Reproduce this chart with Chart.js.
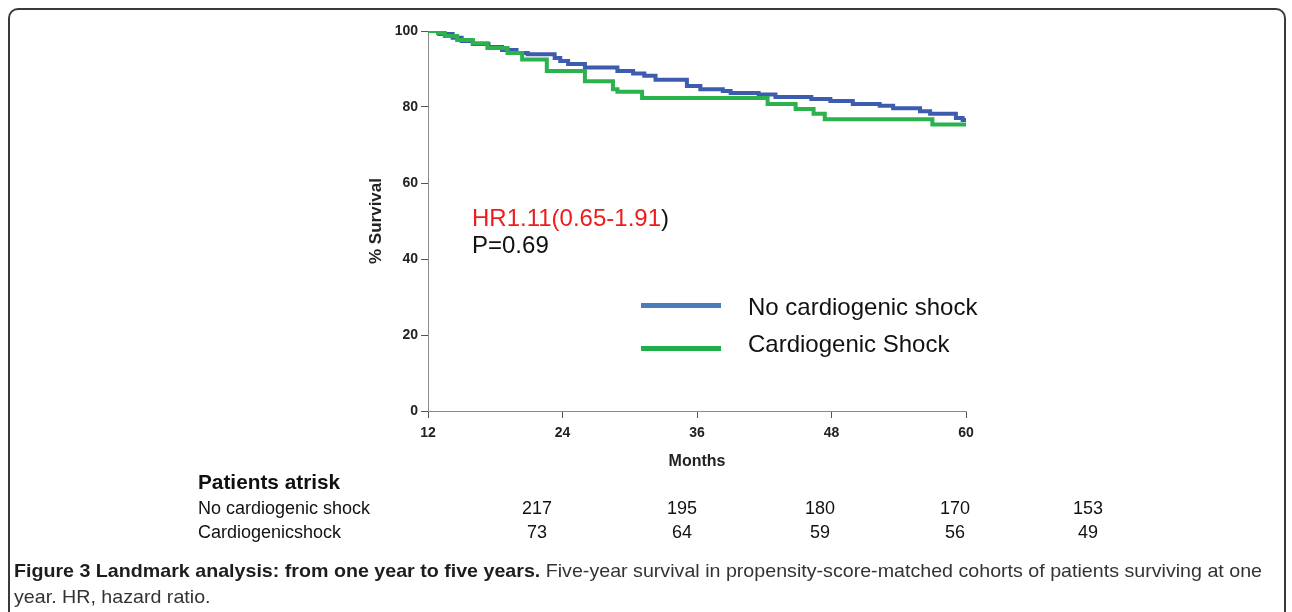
<!DOCTYPE html>
<html><head><meta charset="utf-8">
<script src="https://cdn.jsdelivr.net/npm/chart.js@4.4.1/dist/chart.umd.min.js"></script>
<style>
html,body{margin:0;padding:0;background:#fff;width:1292px;height:612px;overflow:hidden;font-family:"Liberation Sans",Arial,sans-serif;color:#111;}
#frame{position:absolute;left:8px;top:8px;width:1274px;height:640px;border:2px solid #3a3a3a;border-radius:10px;}
#c{position:absolute;left:0;top:0;}
.t{position:absolute;white-space:nowrap;line-height:1;}
.ann{font-size:24px;}
.leg{position:absolute;left:641px;width:80px;height:5px;}
.rk{font-size:18px;color:#111;}
.num{width:80px;text-align:center;}
.cap{font-size:19px;color:#333;transform-origin:0 0;transform:scaleX(1.034);}
.cap b{color:#1d1d1d;}
</style></head>
<body>
<div id="frame"></div>
<canvas id="c" width="1292" height="612"></canvas>
<div id="overlay"></div>
<script>
// ---- data ----
const xTicks = [12, 24, 36, 48, 60];
const yTicks = [0, 20, 40, 60, 80, 100];
const seriesNames = ['No cardiogenic shock', 'Cardiogenic Shock'];

const noShockMonths = [12, 13.0, 14.2, 15.0, 16.0, 17.4, 18.6, 19.9, 20.9, 23.3, 23.8, 24.5, 26.0, 28.9, 30.3, 31.3, 32.3, 35.1, 36.3, 38.3, 39.0, 41.5, 43.0, 46.2, 47.9, 49.9, 52.3, 53.5, 55.9, 56.8, 59.1, 59.7, 60];
const noShockSurv   = [100, 99.2, 98.2, 97.4, 96.6, 95.8, 95.0, 94.2, 93.9, 92.9, 92.1, 91.3, 90.4, 89.5, 88.8, 88.2, 87.2, 85.5, 84.7, 84.2, 83.7, 83.3, 82.6, 82.1, 81.6, 80.8, 80.3, 79.7, 78.9, 78.2, 77.1, 76.6, 76.6];

const shockMonths = [12, 12.9, 13.5, 14.6, 16.0, 17.3, 19.1, 20.4, 22.6, 26.0, 28.5, 28.9, 31.1, 42.3, 44.8, 46.4, 47.4, 57.0, 60];
const shockSurv   = [100, 99.5, 98.7, 97.6, 96.8, 95.5, 94.2, 92.5, 89.5, 86.8, 84.7, 84.0, 82.4, 80.8, 79.5, 78.2, 76.8, 75.4, 75.4];

const riskTitle = 'Patients atrisk';
const riskRowLabels = ['No cardiogenic shock', 'Cardiogenicshock'];
const riskNoShock = [217, 195, 180, 170, 153];
const riskShock = [73, 64, 59, 56, 49];

const hrText = 'HR1.11(0.65-1.91';
const pText = 'P=0.69';
</script>
<script>
function pts(xs, ys){ return xs.map((x,i)=>({x:x, y:ys[i]})); }
Chart.defaults.font.family = '"Liberation Sans", Arial, sans-serif';
const colBlue = '#3d5cb0', colGreen = '#2bb24c';
const chart = new Chart(document.getElementById('c'), {
  type: 'line',
  data: {
    datasets: [
      {label: seriesNames[0], data: pts(noShockMonths, noShockSurv), borderColor: colBlue, borderWidth: 4, stepped: true, pointRadius: 0, fill: false, order: 2},
      {label: seriesNames[1], data: pts(shockMonths, shockSurv), borderColor: colGreen, borderWidth: 4, stepped: true, pointRadius: 0, fill: false, order: 1}
    ]
  },
  options: {
    responsive: false, animation: false, devicePixelRatio: 1,
    layout: {padding: {left: 362, right: 326, top: 31, bottom: 136.4}},
    plugins: {legend: {display: false}, tooltip: {enabled: false}},
    scales: {
      x: {
        type: 'linear', min: 12, max: 60,
        afterBuildTicks: s => { s.ticks = xTicks.map(v => ({value: v})); },
        ticks: {font: {size: 14, weight: 'bold'}, color: '#222', padding: 7, maxRotation: 0, autoSkip: false},
        grid: {drawOnChartArea: false, drawTicks: true, tickLength: 7, color: '#555'},
        border: {display: true, color: '#8a8a8a', width: 1},
        title: {display: true, text: 'Months', font: {size: 16, weight: 'bold'}, color: '#222', padding: {top: 4, bottom: 4}},
        afterFit: s => { s.height = 64.6; }
      },
      y: {
        type: 'linear', min: 0, max: 100,
        afterBuildTicks: s => { s.ticks = yTicks.map(v => ({value: v})); },
        ticks: {font: {size: 14, weight: 'bold'}, color: '#222', padding: 3},
        grid: {drawOnChartArea: false, drawTicks: true, tickLength: 7, color: '#555'},
        border: {display: true, color: '#8a8a8a', width: 1},
        title: {display: true, text: '% Survival', font: {size: 17, weight: 'bold'}, color: '#222', padding: {top: 4, bottom: 4}},
        afterFit: s => { s.width = 66; }
      }
    }
  }
});

// overlays (text)
const ov = document.getElementById('overlay');
function add(html, cls, left, top, extra){
  const d = document.createElement('div');
  d.className = 't ' + cls; d.innerHTML = html;
  d.style.left = left + 'px'; d.style.top = top + 'px';
  if (extra) Object.assign(d.style, extra);
  ov.appendChild(d); return d;
}
add('<span style="color:#ee1c1c">' + hrText + '</span>)', 'ann', 472, 206);
add(pText, 'ann', 472, 233);
const l1 = document.createElement('div'); l1.className='leg'; l1.style.top='302.5px'; l1.style.background='#4a7ebb'; ov.appendChild(l1);
const l2 = document.createElement('div'); l2.className='leg'; l2.style.top='345.5px'; l2.style.background='#1fae4b'; ov.appendChild(l2);
add(seriesNames[0], 'ann', 748, 295);
add(seriesNames[1], 'ann', 748, 332);

add('<b>' + riskTitle + '</b>', 'rk', 198, 471.5, {fontSize: '20.8px'});
add(riskRowLabels[0], 'rk', 198, 499);
add(riskRowLabels[1], 'rk', 198, 523);
const colX = [537, 682, 820, 955, 1088];
riskNoShock.forEach((v,i)=> add(String(v), 'rk num', colX[i]-40, 499));
riskShock.forEach((v,i)=> add(String(v), 'rk num', colX[i]-40, 523));

add('<b>Figure 3 Landmark analysis: from one year to five years.</b> Five-year survival in propensity-score-matched cohorts of patients surviving at one', 'cap', 14, 561);
add('year. HR, hazard ratio.', 'cap', 14, 587);
</script>
</body></html>
